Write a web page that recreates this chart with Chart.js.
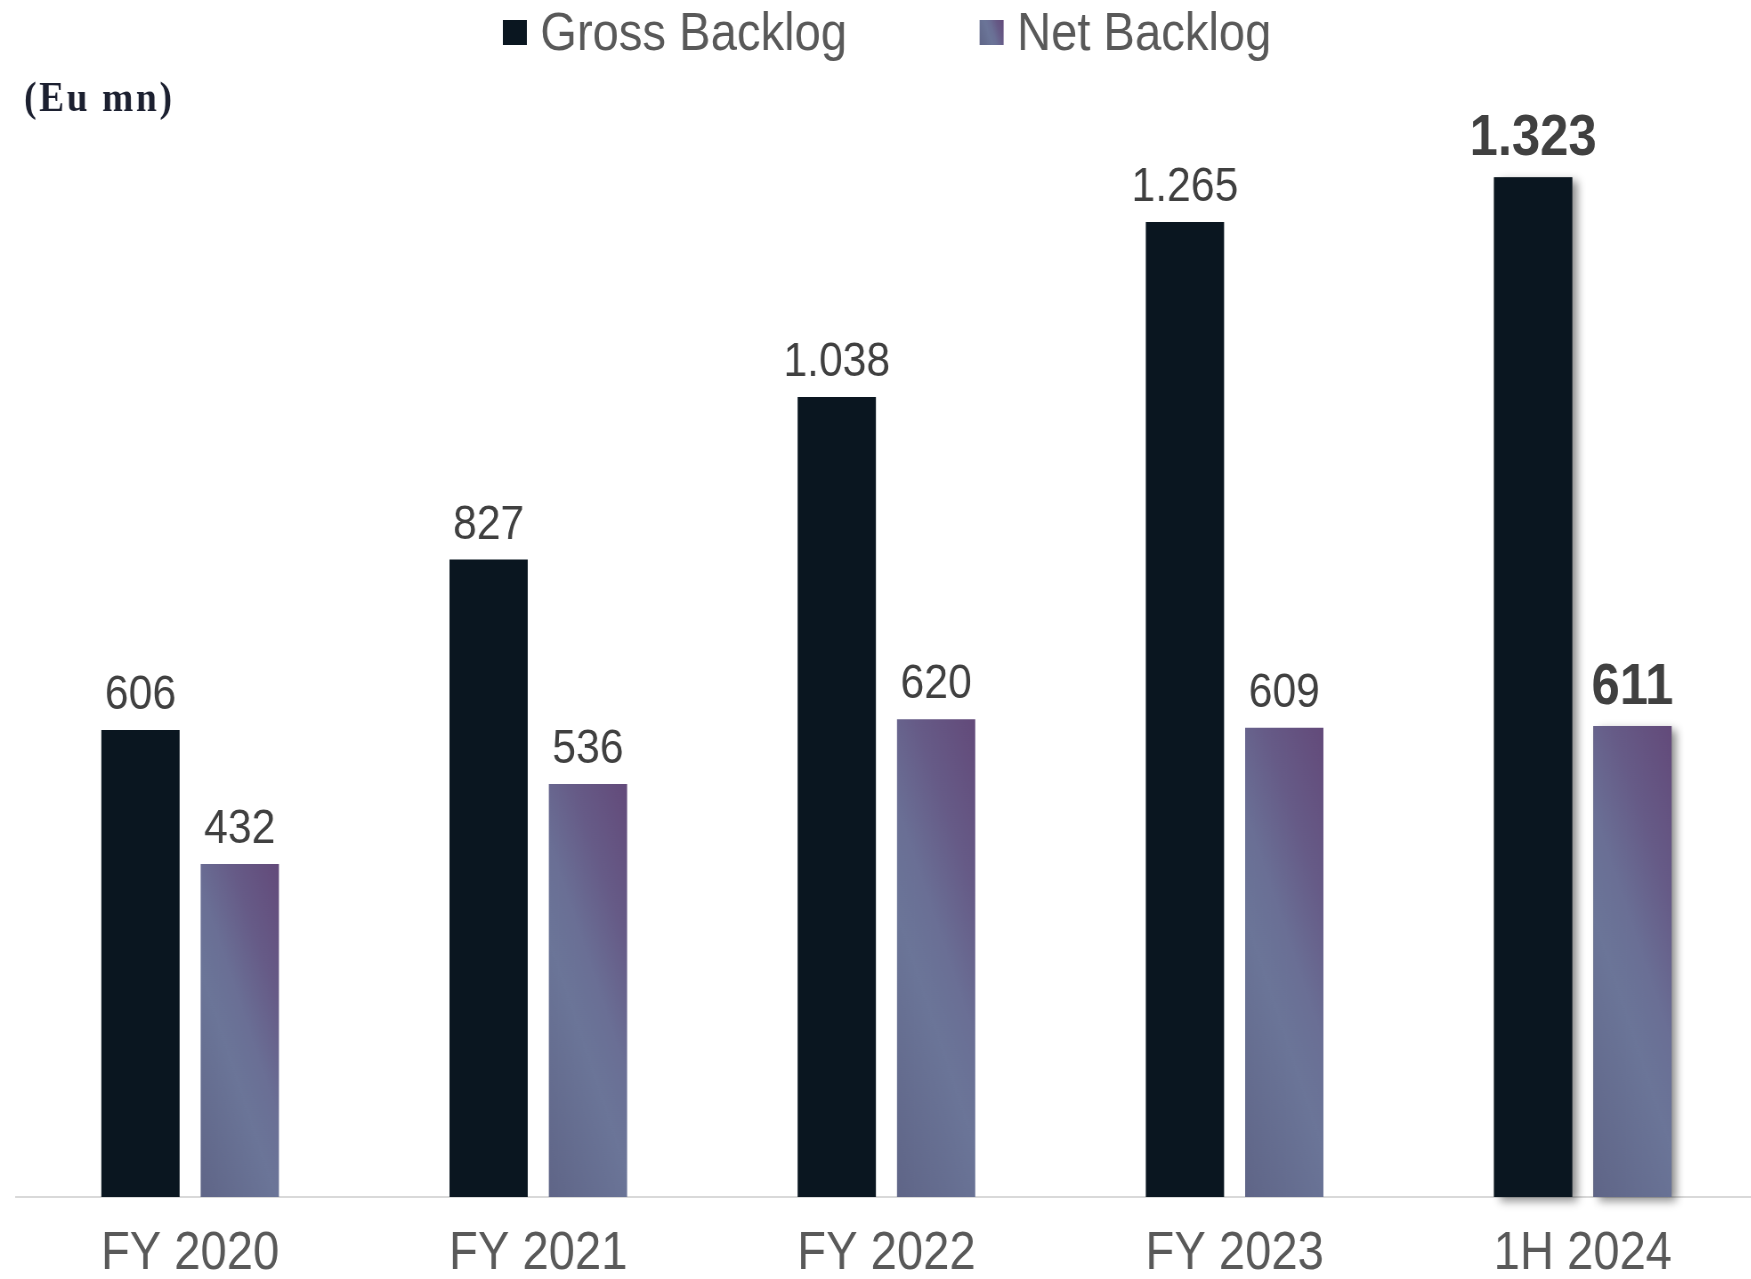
<!DOCTYPE html>
<html>
<head>
<meta charset="utf-8">
<title>Backlog</title>
<script src="https://cdn.jsdelivr.net/npm/chart.js@4.4.1/dist/chart.umd.min.js"></script>
<style>
  html, body { margin: 0; padding: 0; overflow: hidden; background: #fff; }
  #wrap { width: 1751px; height: 1279px; overflow: hidden; }
  /* the chart is drawn wide and squeezed horizontally; the axis runs off the right edge */
  #backlogChart { display: block; transform: scaleX(0.89); transform-origin: 0 0; }
</style>
</head>
<body>
<div id="wrap"><canvas id="backlogChart" width="1990" height="1279"></canvas></div>
<script>
const periods = ['FY 2020', 'FY 2021', 'FY 2022', 'FY 2023', '1H 2024'];
const grossBacklog = [606, 827, 1038, 1265, 1323];
const netBacklog = [432, 536, 620, 609, 611];
const seriesNames = ['Gross Backlog', 'Net Backlog'];
const unitLabel = '(Eu mn)';

const GROSS_FILL = '#0a1620';
const NET_FLAT = '#676d90';
const VALUE_INK = '#404040';
const AXIS_INK = '#595959';
const FONT = '"Liberation Sans", Arial, sans-serif';

Chart.defaults.font.family = FONT;

// 1038 -> "1.038"
function fmt(v) {
  return String(v).replace(/\B(?=(\d{3})+(?!\d))/g, '.');
}

// blue-grey at bottom left, purple towards the top right corner
function netGradient(ctx, left, top, right, bottom) {
  const k = 2.67;
  const s = (k * (right - left) + (bottom - top)) / (k * k + 1);
  const g = ctx.createLinearGradient(left, bottom, left + k * s, bottom - s);
  g.addColorStop(0, '#5f6587');
  g.addColorStop(0.4, '#6b7598');
  g.addColorStop(0.55, '#6a6f95');
  g.addColorStop(0.75, '#665b87');
  g.addColorStop(1, '#634a7a');
  return g;
}

function netFill(c) {
  const bar = c.chart.getDatasetMeta(c.datasetIndex).data[c.dataIndex];
  if (!bar || bar.x == null || bar.base == null) return NET_FLAT;
  return netGradient(c.chart.ctx, bar.x - bar.width / 2, bar.y, bar.x + bar.width / 2, bar.base);
}

const decor = {
  id: 'backlogDecor',
  beforeDatasetsDraw(chart) {
    // drop shadow behind the latest period
    const ctx = chart.ctx;
    const last = periods.length - 1;
    chart.data.datasets.forEach((ds, i) => {
      const bar = chart.getDatasetMeta(i).data[last];
      if (!bar) return;
      ctx.save();
      ctx.shadowColor = 'rgba(0, 0, 0, 0.45)';
      ctx.shadowBlur = 9;
      ctx.shadowOffsetX = 6;
      ctx.shadowOffsetY = 4;
      ctx.fillStyle = '#777';
      ctx.fillRect(bar.x - bar.width / 2, bar.y, bar.width, bar.base - bar.y);
      ctx.restore();
    });
  },
  afterDatasetsDraw(chart) {
    const ctx = chart.ctx;
    const last = periods.length - 1;
    ctx.save();
    ctx.fillStyle = VALUE_INK;
    ctx.textAlign = 'center';
    ctx.textBaseline = 'alphabetic';
    chart.data.datasets.forEach((ds, i) => {
      chart.getDatasetMeta(i).data.forEach((bar, j) => {
        const bold = j === last;
        ctx.font = (bold ? 'bold 57px ' : '48px ') + FONT;
        ctx.fillText(fmt(ds.data[j]), bar.x, bar.y - (bold ? 22 : 21));
      });
    });
    ctx.restore();
  },
  afterDraw(chart) {
    const ctx = chart.ctx;
    ctx.save();
    // legend
    const boxW = 27, boxH = 25, boxTop = 20;
    let lx = 565;
    ctx.font = '53px ' + FONT;
    ctx.textBaseline = 'alphabetic';
    ctx.textAlign = 'left';
    chart.data.datasets.forEach((ds, i) => {
      ctx.fillStyle = i === 0 ? GROSS_FILL : netGradient(ctx, lx, boxTop, lx + boxW, boxTop + boxH);
      ctx.fillRect(lx, boxTop, boxW, boxH);
      ctx.fillStyle = AXIS_INK;
      ctx.fillText(ds.label, lx + boxW + 15, 50);
      lx += boxW + 15 + ctx.measureText(ds.label).width + 149;
    });
    // unit
    ctx.font = 'bold 42px "Liberation Serif", "Times New Roman", serif';
    ctx.letterSpacing = '3px';
    ctx.fillStyle = '#1c2030';
    ctx.fillText(unitLabel, 27, 111);
    ctx.restore();
  }
};

const chart = new Chart(document.getElementById('backlogChart'), {
  type: 'bar',
  data: {
    labels: periods,
    datasets: [
      {
        label: seriesNames[0],
        data: grossBacklog,
        backgroundColor: GROSS_FILL,
        categoryPercentage: 0.5706,
        barPercentage: 0.788
      },
      {
        label: seriesNames[1],
        data: netBacklog,
        backgroundColor: netFill,
        categoryPercentage: 0.5706,
        barPercentage: 0.788
      }
    ]
  },
  options: {
    responsive: false,
    animation: false,
    events: [],
    layout: { padding: { top: 118, left: 18, right: 16, bottom: -33 } },
    plugins: {
      legend: { display: false },
      tooltip: { enabled: false }
    },
    scales: {
      x: {
        grid: { display: false, drawTicks: false },
        border: { color: '#d9d9d9', width: 2 },
        ticks: { color: AXIS_INK, padding: 31, font: { size: 53, lineHeight: 1 } }
      },
      y: { display: false, min: 0, max: 1400 }
    }
  },
  plugins: [decor]
});
// second pass so the gradients see the bar geometry
chart.update();
</script>
</body>
</html>
